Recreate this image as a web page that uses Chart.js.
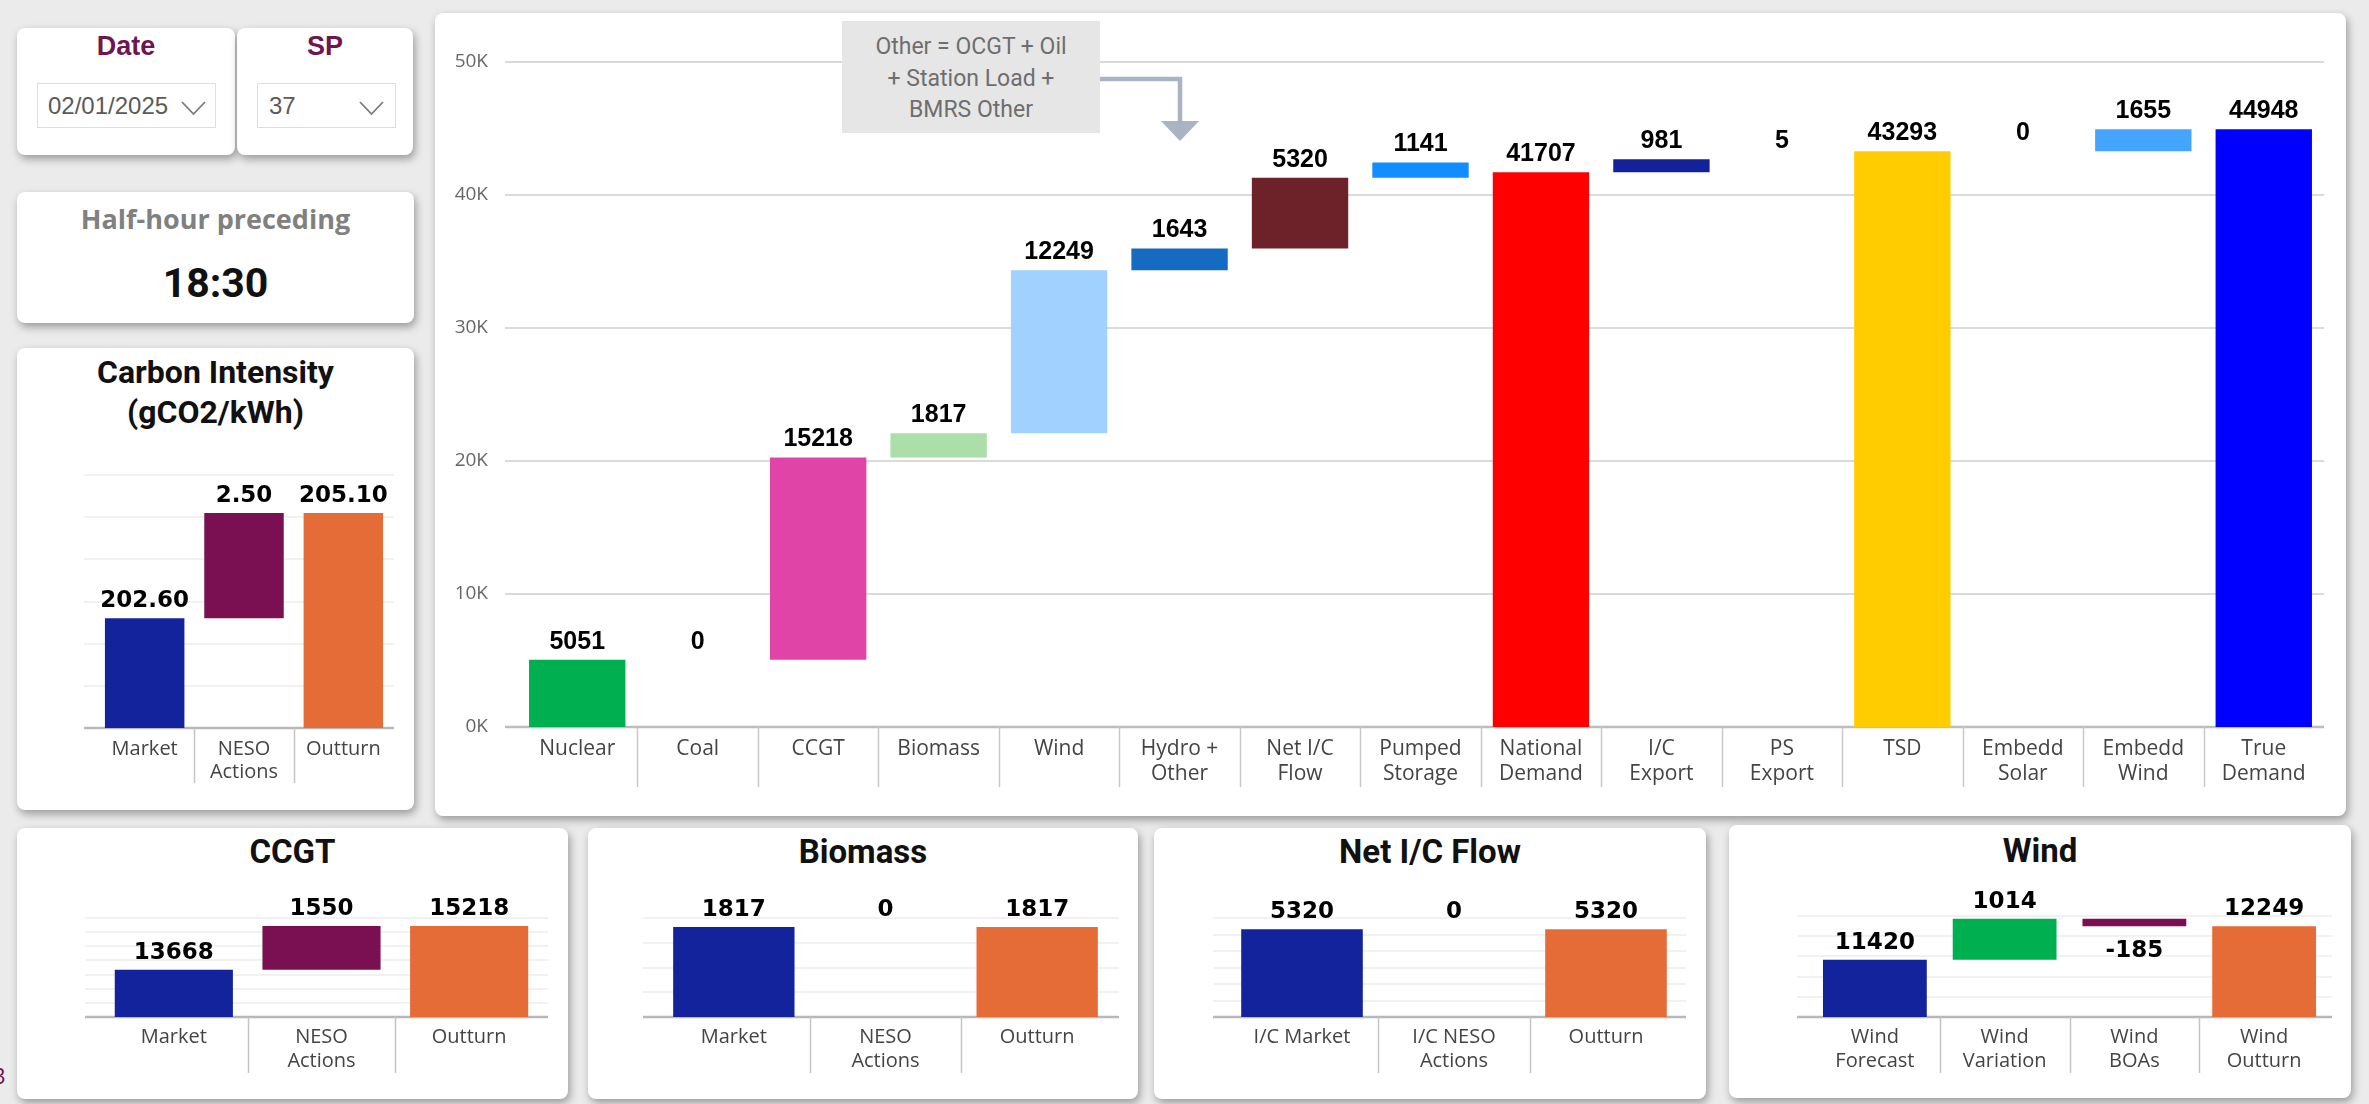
<!DOCTYPE html>
<html>
<head>
<meta charset="utf-8">
<title>Generation and demand waterfall</title>
<script src="https://cdn.jsdelivr.net/npm/chart.js@4.4.1/dist/chart.umd.min.js"></script>
<style>
  html, body { margin: 0; padding: 0; }
  body { width: 2369px; height: 1104px; position: relative; overflow: hidden; background: #ebebeb; font-family: 'Open Sans', sans-serif; }
  .panel { position: absolute; background: #fff; border-radius: 8px; box-shadow: 2px 4px 9px rgba(0,0,0,0.35); }
  canvas { position: absolute; }
  .abs { position: absolute; }
  .slicer-title { position: absolute; text-align: center; font: 700 27px 'Liberation Sans', Arial, sans-serif; color: #6f1550; line-height: 36px; }
  .dropdown { position: absolute; border: 1px solid #dedede; box-sizing: border-box; font: 24px 'Liberation Sans', Arial, sans-serif; color: #5a5a5a; line-height: 43px; }
  .card-title { position: absolute; text-align: center; font: 700 33px Roboto, sans-serif; color: #111; line-height: 40px; }
</style>
</head>
<body>

<!-- panels -->
<div class="panel" style="left:17px;top:28px;width:218px;height:127px;"></div>
<div class="panel" style="left:237px;top:28px;width:176px;height:127px;"></div>
<div class="panel" style="left:17px;top:192px;width:397px;height:131px;"></div>
<div class="panel" style="left:17px;top:348px;width:397px;height:462px;"></div>
<div class="panel" style="left:435px;top:13px;width:1911px;height:803px;"></div>
<div class="panel" style="left:17px;top:828px;width:551px;height:271px;"></div>
<div class="panel" style="left:588px;top:828px;width:550px;height:271px;"></div>
<div class="panel" style="left:1154px;top:828px;width:552px;height:271px;"></div>
<div class="panel" style="left:1729px;top:825px;width:622px;height:273px;"></div>

<!-- slicers -->
<div class="slicer-title" style="left:17px;top:28px;width:218px;">Date</div>
<div class="dropdown" style="left:37px;top:83px;width:179px;height:45px;padding-left:10px;">02/01/2025</div>
<div class="slicer-title" style="left:237px;top:28px;width:176px;">SP</div>
<div class="dropdown" style="left:257px;top:83px;width:139px;height:45px;padding-left:11px;">37</div>
<svg class="abs" style="left:0;top:0;" width="420" height="140">
  <polyline points="182,102 193.5,114 205,102" fill="none" stroke="#7a7a7a" stroke-width="1.8"/>
  <polyline points="360,102 371.5,114 383,102" fill="none" stroke="#7a7a7a" stroke-width="1.8"/>
</svg>

<!-- settlement period card -->
<div class="abs" style="left:17px;top:201px;width:397px;text-align:center;font:700 27px 'Open Sans',sans-serif;color:#808080;line-height:36px;">Half-hour preceding</div>
<div class="abs" style="left:17px;top:258px;width:397px;text-align:center;font:700 41px Roboto,sans-serif;color:#111;line-height:50px;">18:30</div>

<!-- chart titles -->
<div class="card-title" style="left:17px;top:352px;width:397px;font-size:32px;">Carbon Intensity<br>(gCO2/kWh)</div>
<div class="card-title" style="left:17px;top:832px;width:551px;">CCGT</div>
<div class="card-title" style="left:588px;top:832px;width:550px;">Biomass</div>
<div class="card-title" style="left:1154px;top:832px;width:552px;">Net I/C Flow</div>
<div class="card-title" style="left:1729px;top:831px;width:622px;">Wind</div>

<canvas id="mainChart"></canvas>
<canvas id="carbonChart"></canvas>
<canvas id="ccgtChart"></canvas>
<canvas id="biomassChart"></canvas>
<canvas id="icChart"></canvas>
<canvas id="windChart"></canvas>

<!-- note on the Hydro + Other column -->
<div class="abs" style="left:842px;top:21px;width:258px;height:112px;background:#e6e6e6;text-align:center;font:23px Roboto,sans-serif;color:#6e6e6e;line-height:31.5px;padding-top:10px;box-sizing:border-box;">Other = OCGT + Oil<br>+ Station Load +<br>BMRS Other</div>
<svg class="abs" style="left:0;top:0;pointer-events:none;" width="1300" height="160">
  <path d="M1100 79 H1180 V123" fill="none" stroke="#a8b4c2" stroke-width="4.5"/>
  <polygon points="1161,121 1199,121 1180,141" fill="#a8b4c2"/>
</svg>

<div class="abs" style="left:-7px;top:1060px;font:22px 'Open Sans',sans-serif;color:#6f1550;">3</div>

<script>
// ---------- data ----------
const mainCategories = [['Nuclear'], ['Coal'], ['CCGT'], ['Biomass'], ['Wind'], ['Hydro +', 'Other'], ['Net I/C', 'Flow'],
  ['Pumped', 'Storage'], ['National', 'Demand'], ['I/C', 'Export'], ['PS', 'Export'], ['TSD'], ['Embedd', 'Solar'],
  ['Embedd', 'Wind'], ['True', 'Demand']];
const mainValues = [5051, 0, 15218, 1817, 12249, 1643, 5320, 1141, 41707, 981, 5, 43293, 0, 1655, 44948];
const mainKinds = ['step', 'step', 'step', 'step', 'step', 'step', 'step', 'step', 'total', 'step', 'step', 'total', 'step', 'step', 'total'];
const mainTickLabels = ['0K', '10K', '20K', '30K', '40K', '50K'];

const carbonCategories = ['Market', ['NESO', 'Actions'], 'Outturn'];
const carbonValues = [202.60, 2.50, 205.10];
const carbonKinds = ['total', 'step', 'total'];

const ccgtCategories = ['Market', ['NESO', 'Actions'], 'Outturn'];
const ccgtValues = [13668, 1550, 15218];

const biomassCategories = ['Market', ['NESO', 'Actions'], 'Outturn'];
const biomassValues = [1817, 0, 1817];

const icCategories = ['I/C Market', ['I/C NESO', 'Actions'], 'Outturn'];
const icValues = [5320, 0, 5320];

const windCategories = [['Wind', 'Forecast'], ['Wind', 'Variation'], ['Wind', 'BOAs'], ['Wind', 'Outturn']];
const windValues = [11420, 1014, -185, 12249];
const windKinds = ['total', 'step', 'step', 'total'];

const threeStepKinds = ['total', 'step', 'total'];

// ---------- palettes ----------
const mainPalette = ['#00b050', '#ffffff', '#e044a7', '#abdea8', '#a1d1ff', '#156bc1', '#6c2228', '#128dff',
  '#ff0000', '#13229b', '#e9edf5', '#ffcc00', '#ffffff', '#44a5ff', '#0000ff'];
const marketPalette = ['#13239c', '#7a1052', '#e66c37'];
const windPalette = ['#13239c', '#00b050', '#7a1052', '#e66c37'];

// running-total floating bars: a 'total' restarts the sum from zero
function waterfall(values, kinds) {
  let run = 0;
  return values.map((v, i) => {
    if (kinds[i] === 'total') { run = v; return [0, v]; }
    const seg = [run, run + v];
    run += v;
    return seg;
  });
}

// gridlines, baseline and category separators
const frame = {
  id: 'frame',
  beforeDatasetsDraw(chart, args, o) {
    const { ctx, chartArea: ca, scales: { x, y } } = chart;
    const gl = ca.left - o.lead, gr = ca.right + o.trail;
    ctx.save();
    ctx.strokeStyle = o.gridColor;
    ctx.lineWidth = o.gridWidth;
    for (let v = y.min + o.step; v <= y.max + 1e-9; v += o.step) {
      const py = Math.round(y.getPixelForValue(v));
      ctx.beginPath(); ctx.moveTo(gl, py); ctx.lineTo(gr, py); ctx.stroke();
    }
    const by = Math.round(y.getPixelForValue(y.min));
    ctx.strokeStyle = o.axisColor;
    ctx.lineWidth = o.axisWidth;
    ctx.beginPath(); ctx.moveTo(gl, by); ctx.lineTo(gr, by); ctx.stroke();
    ctx.strokeStyle = o.sepColor;
    ctx.lineWidth = 1.5;
    const n = chart.data.labels.length;
    for (let i = 1; i < n; i++) {
      const px = Math.round((x.getPixelForValue(i - 1) + x.getPixelForValue(i)) / 2) + 0.5;
      ctx.beginPath(); ctx.moveTo(px, by); ctx.lineTo(px, by + o.sepLen); ctx.stroke();
    }
    ctx.restore();
  }
};

// value labels above (or below, for negatives) each bar
const barLabels = {
  id: 'barLabels',
  afterDatasetsDraw(chart, args, o) {
    const { ctx, scales: { y } } = chart;
    const ds = chart.data.datasets[0];
    const meta = chart.getDatasetMeta(0);
    ctx.save();
    ctx.font = o.font;
    ctx.fillStyle = '#000';
    ctx.textAlign = 'center';
    ctx.textBaseline = 'middle';
    meta.data.forEach((bar, i) => {
      const v = o.values[i];
      const [a, b] = ds.data[i];
      const py = v < 0 ? y.getPixelForValue(Math.min(a, b)) + o.below
                       : y.getPixelForValue(Math.max(a, b)) - o.above;
      ctx.fillText(o.format(v), bar.x, py);
    });
    ctx.restore();
  }
};

function buildChart(id, box, area, cfg) {
  const cv = document.getElementById(id);
  cv.width = box.w; cv.height = box.h;
  Object.assign(cv.style, { left: box.x + 'px', top: box.y + 'px', width: box.w + 'px', height: box.h + 'px' });
  const yWidth = area.l - box.x;
  const xHeight = box.y + box.h - area.b;
  return new Chart(cv, {
    type: 'bar',
    data: {
      labels: cfg.labels,
      datasets: [{
        data: waterfall(cfg.values, cfg.kinds),
        backgroundColor: cfg.colors,
        borderWidth: 0,
        barPercentage: 0.8,
        categoryPercentage: 1
      }]
    },
    options: {
      responsive: false,
      animation: false,
      devicePixelRatio: 1,
      events: [],
      layout: { padding: { left: 0, top: area.t - box.y, right: box.x + box.w - area.r, bottom: 0 } },
      plugins: {
        legend: { display: false },
        tooltip: { enabled: false },
        frame: cfg.frame,
        barLabels: Object.assign({ values: cfg.values }, cfg.labelOpts)
      },
      scales: {
        x: {
          grid: { display: false, drawTicks: false },
          border: { display: false },
          ticks: {
            autoSkip: false, maxRotation: 0, minRotation: 0,
            font: cfg.xFont, color: '#444', padding: cfg.xPad
          },
          afterFit: s => { s.height = xHeight; }
        },
        y: {
          min: cfg.min, max: cfg.max,
          grid: { display: false, drawTicks: false },
          border: { display: false },
          ticks: {
            display: !!cfg.showY,
            stepSize: cfg.frame.step,
            callback: cfg.yTick || (v => v),
            font: { family: "'Open Sans', sans-serif", size: 19 },
            color: '#666',
            padding: 29
          },
          afterFit: s => { s.width = yWidth; }
        }
      }
    },
    plugins: [frame, barLabels]
  });
}

const smallXFont = { family: "'Open Sans', sans-serif", size: 20, lineHeight: 1.17 };
const smallLabel = { font: "bold 23px 'DejaVu Sans', sans-serif", above: 17, below: 25, format: v => String(v) };
const smallFrame = (lead, trail, step) => ({
  lead, trail, step, gridColor: '#ececec', gridWidth: 1.5, axisColor: '#b8b8b8', axisWidth: 2.5,
  sepColor: '#c4c4c4', sepLen: 56
});

// main generation / demand waterfall
buildChart('mainChart', { x: 435, y: 13, w: 1911, h: 803 }, { l: 517, r: 2324, t: 62, b: 727 }, {
  labels: mainCategories, values: mainValues, kinds: mainKinds, colors: mainPalette,
  showY: true, min: 0, max: 50000,
  yTick: v => mainTickLabels[Math.round(v / 10000)],
  xFont: { family: "'Open Sans', sans-serif", size: 21, lineHeight: 1.19 }, xPad: 10,
  frame: { lead: 12, trail: 0, step: 10000, gridColor: '#dadada', gridWidth: 2, axisColor: '#bdbdbd', axisWidth: 2.5, sepColor: '#c8c8c8', sepLen: 60 },
  labelOpts: { font: "bold 25px 'Liberation Sans', Arial, sans-serif", above: 18, below: 25, format: v => String(v) }
});

// carbon intensity
buildChart('carbonChart', { x: 17, y: 348, w: 397, h: 462 }, { l: 95, r: 393, t: 475, b: 728 }, {
  labels: carbonCategories, values: carbonValues, kinds: carbonKinds, colors: marketPalette,
  min: 200, max: 206,
  xFont: { family: "'Open Sans', sans-serif", size: 20, lineHeight: 1.15 }, xPad: 10,
  frame: { lead: 11, trail: 1, step: 1, gridColor: '#ececec', gridWidth: 1.5, axisColor: '#b8b8b8', axisWidth: 2.5, sepColor: '#c4c4c4', sepLen: 55 },
  labelOpts: { font: "bold 23px 'DejaVu Sans', sans-serif", above: 17, below: 25, format: v => v.toFixed(2) }
});

buildChart('ccgtChart', { x: 17, y: 828, w: 551, h: 271 }, { l: 100, r: 543, t: 918, b: 1017 }, {
  labels: ccgtCategories, values: ccgtValues, kinds: threeStepKinds, colors: marketPalette,
  min: 12000, max: 15500, xFont: smallXFont, xPad: 9,
  frame: smallFrame(15, 5, 500), labelOpts: smallLabel
});

buildChart('biomassChart', { x: 588, y: 828, w: 550, h: 271 }, { l: 658, r: 1113, t: 918, b: 1017 }, {
  labels: biomassCategories, values: biomassValues, kinds: threeStepKinds, colors: marketPalette,
  min: 0, max: 2000, xFont: smallXFont, xPad: 9,
  frame: smallFrame(15, 6, 500), labelOpts: smallLabel
});

buildChart('icChart', { x: 1154, y: 828, w: 552, h: 271 }, { l: 1226, r: 1682, t: 918, b: 1017 }, {
  labels: icCategories, values: icValues, kinds: threeStepKinds, colors: marketPalette,
  min: 0, max: 6000, xFont: smallXFont, xPad: 9,
  frame: smallFrame(13, 4, 1000), labelOpts: smallLabel
});

buildChart('windChart', { x: 1729, y: 825, w: 622, h: 273 }, { l: 1810, r: 2329, t: 916, b: 1017 }, {
  labels: windCategories, values: windValues, kinds: windKinds, colors: windPalette,
  min: 10000, max: 12500, xFont: smallXFont, xPad: 9,
  frame: smallFrame(13, 3, 500), labelOpts: smallLabel
});
</script>
</body>
</html>
